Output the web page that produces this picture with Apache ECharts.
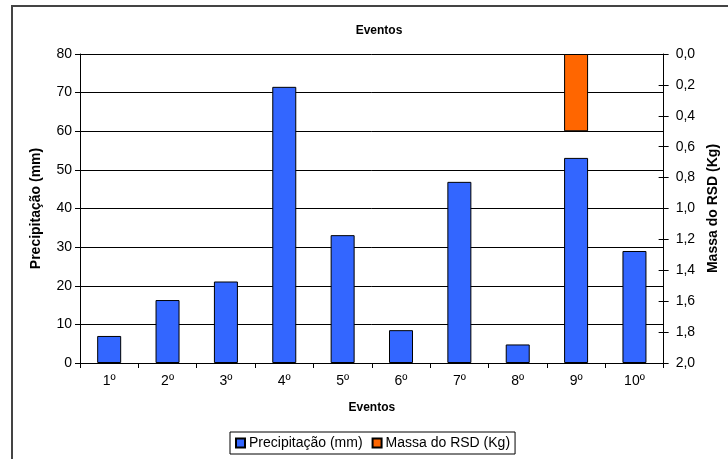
<!DOCTYPE html>
<html>
<head>
<meta charset="utf-8">
<script src="https://cdn.jsdelivr.net/npm/echarts@6/dist/echarts.min.js"></script>
<style>
  html, body { margin: 0; padding: 0; background: #fff; }
  #frame { position: absolute; left: 11px; top: 5px; width: 740px; height: 480px; border: 2px solid #444; box-sizing: border-box; }
  #chart { position: absolute; left: 0; top: 0; width: 728px; height: 459px; }
</style>
</head>
<body>
<div id="frame"></div>
<div id="chart"></div>
<script>
// Event categories and measured values
const eventos = ['1º', '2º', '3º', '4º', '5º', '6º', '7º', '8º', '9º', '10º'];
const precipitacao = [7.0, 16.3, 21.1, 71.5, 33.1, 8.5, 46.9, 4.8, 53.1, 29.0];
const massaRSD = [null, null, null, null, null, null, null, null, 0.5, null];

const FONT = 'Liberation Sans, Arial, sans-serif';
const fmtComma = v => v.toFixed(1).replace('.', ',');

const chart = echarts.init(document.getElementById('chart'), null, { renderer: 'canvas' });

chart.setOption({
  backgroundColor: 'transparent',
  animation: false,
  textStyle: { fontFamily: FONT, color: '#000' },
  title: {
    text: 'Eventos',
    left: 374,
    textAlign: 'center',
    top: 20,
    textStyle: { fontFamily: FONT, fontSize: 12, fontWeight: 'bold', color: '#000' }
  },
  legend: {
    left: 230,
    top: 432,
    padding: [4, 5],
    itemGap: 9,
    itemWidth: 9,
    itemHeight: 9,
    icon: 'rect',
    borderColor: '#000',
    borderWidth: 1,
    textStyle: { fontFamily: FONT, fontSize: 14, color: '#000', padding: [0, 0, 0, -1] },
    data: ['Precipitação (mm)', 'Massa do RSD (Kg)']
  },
  grid: { left: 80, right: 58, top: 54, bottom: 96, containLabel: false },
  xAxis: {
    type: 'category',
    data: eventos,
    name: 'Eventos',
    nameLocation: 'middle',
    nameGap: 39,
    nameTextStyle: { fontFamily: FONT, fontSize: 12, fontWeight: 'bold', color: '#000' },
    axisLine: { lineStyle: { color: '#000', width: 1 } },
    axisTick: { show: true, alignWithLabel: false, length: 5, lineStyle: { color: '#000' } },
    axisLabel: { fontFamily: FONT, fontSize: 14, color: '#000', margin: 11 }
  },
  yAxis: [
    {
      type: 'value',
      min: 0, max: 80, interval: 10,
      name: 'Precipitação (mm)',
      nameLocation: 'middle',
      nameGap: 37,
      nameTextStyle: { fontFamily: FONT, fontSize: 14, fontWeight: 'bold', color: '#000' },
      axisLine: { show: true, lineStyle: { color: '#000', width: 1 } },
      axisTick: { show: true, length: 5, lineStyle: { color: '#000' } },
      axisLabel: { fontFamily: FONT, fontSize: 14, color: '#000', margin: 8 },
      splitLine: { show: true, lineStyle: { color: '#000', width: 1 } }
    },
    {
      type: 'value',
      position: 'right',
      inverse: true,
      min: 0, max: 2, interval: 0.2,
      name: 'Massa do RSD (Kg)',
      nameLocation: 'middle',
      nameGap: 37,
      nameTextStyle: { fontFamily: FONT, fontSize: 14, fontWeight: 'bold', color: '#000' },
      axisLine: { show: true, lineStyle: { color: '#000', width: 1 } },
      axisTick: { show: true, length: 5, lineStyle: { color: '#000' } },
      axisLabel: { fontFamily: FONT, fontSize: 14, color: '#000', margin: 12, formatter: fmtComma },
      splitLine: { show: false }
    },
    {
      // inner half of the crossing ticks on the secondary axis
      type: 'value',
      position: 'right',
      inverse: true,
      min: 0, max: 2, interval: 0.2,
      axisLine: { show: false },
      axisTick: { show: true, inside: true, length: 5, lineStyle: { color: '#000' } },
      axisLabel: { show: false },
      splitLine: { show: false }
    }
  ],
  series: [
    {
      name: 'Precipitação (mm)',
      type: 'bar',
      yAxisIndex: 0,
      data: precipitacao,
      barWidth: 24,
      barGap: '-100%',
      itemStyle: { color: '#3366FF', borderColor: '#000', borderWidth: 1 }
    },
    {
      name: 'Massa do RSD (Kg)',
      type: 'bar',
      yAxisIndex: 1,
      data: massaRSD,
      barWidth: 24,
      barGap: '-100%',
      itemStyle: { color: '#FF6600', borderColor: '#000', borderWidth: 1 }
    }
  ]
});
</script>
</body>
</html>
